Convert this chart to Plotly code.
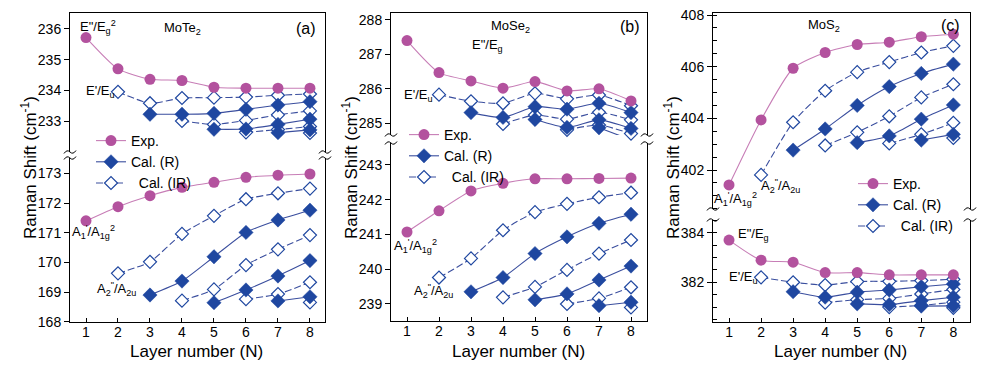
import plotly.graph_objects as go

W, H = 1002, 367
N = [1, 2, 3, 4, 5, 6, 7, 8]

# ---------------- (a) MoTe2 ----------------
a_hi_exp = [235.72, 234.70, 234.36, 234.32, 234.10, 234.07, 234.07, 234.07]
a_hi_R = [
    [None, None, 233.22, 233.22, 233.25, 233.38, 233.52, 233.63],
    [None, None, None, None, 232.73, 232.74, 232.89, 233.06],
    [None, None, None, None, None, None, 232.62, 232.71],
]
a_hi_IR = [
    [None, 233.95, 233.58, 233.75, 233.76, 233.78, 233.84, 233.88],
    [None, None, None, 233.00, 232.89, 233.02, 233.20, 233.33],
    [None, None, None, None, None, 232.63, 232.72, 232.82],
    [None, None, None, None, None, None, None, 232.61],
]
a_lo_exp = [171.40, 171.88, 172.25, 172.53, 172.70, 172.87, 172.94, 172.98]
a_lo_R = [
    [None, None, 168.90, 169.37, 170.19, 171.01, 171.43, 171.76],
    [None, None, None, None, 168.64, 169.07, 169.54, 170.06],
    [None, None, None, None, None, None, 168.70, 168.84],
]
a_lo_IR = [
    [None, 169.63, 170.02, 170.96, 171.57, 172.13, 172.33, 172.49],
    [None, None, None, 168.71, 169.09, 169.91, 170.44, 170.92],
    [None, None, None, None, None, 168.76, 168.93, 169.33],
    [None, None, None, None, None, None, None, 168.65],
]

# ---------------- (b) MoSe2 ----------------
b_hi_exp = [287.40, 286.47, 286.23, 286.02, 286.21, 285.94, 286.00, 285.65]
b_hi_R = [
    [None, None, 285.31, 285.17, 285.48, 285.41, 285.58, 285.31],
    [None, None, None, None, 285.11, 284.88, 285.10, 284.85],
    [None, None, None, None, None, None, 284.87, 284.52],
]
b_hi_IR = [
    [None, 285.83, 285.64, 285.58, 285.87, 285.71, 285.82, 285.51],
    [None, None, None, 284.98, 285.24, 285.12, 285.32, 285.10],
    [None, None, None, None, None, 284.81, 284.95, 284.70],
    [None, None, None, None, None, None, None, 284.62],
]
b_lo_exp = [241.07, 241.68, 242.25, 242.47, 242.60, 242.60, 242.61, 242.62]
b_lo_R = [
    [None, None, 239.35, 239.76, 240.45, 240.93, 241.32, 241.58],
    [None, None, None, None, 239.12, 239.29, 239.69, 240.09],
    [None, None, None, None, None, None, 238.95, 239.05],
]
b_lo_IR = [
    [None, 239.76, 240.31, 241.12, 241.64, 241.88, 242.07, 242.20],
    [None, None, None, 239.19, 239.49, 239.98, 240.45, 240.84],
    [None, None, None, None, None, 239.00, 239.16, 239.48],
    [None, None, None, None, None, None, None, 238.90],
]

# ---------------- (c) MoS2 ----------------
c_hi_exp = [401.42, 403.94, 405.94, 406.55, 406.86, 406.95, 407.16, 407.26]
c_hi_R = [
    [None, None, 402.77, 403.59, 404.50, 405.23, 405.74, 406.10],
    [None, None, None, None, 403.06, 403.32, 403.97, 404.52],
    [None, None, None, None, None, None, 403.16, 403.38],
]
c_hi_IR = [
    [None, 401.81, 403.85, 405.07, 405.79, 406.18, 406.55, 406.81],
    [None, None, None, 402.95, 403.46, 404.08, 404.81, 405.32],
    [None, None, None, None, None, 403.03, 403.38, 403.83],
    [None, None, None, None, None, None, None, 403.24],
]
c_lo_exp = [383.70, 382.89, 382.81, 382.39, 382.39, 382.30, 382.30, 382.30]
c_lo_R = [
    [None, None, 381.62, 381.40, 381.60, 381.69, 381.82, 381.93],
    [None, None, None, None, 381.13, 381.10, 381.26, 381.40],
    [None, None, None, None, None, None, 381.04, 381.05],
]
c_lo_IR = [
    [None, 382.20, 382.00, 381.89, 382.03, 382.04, 382.07, 382.12],
    [None, None, None, 381.18, 381.30, 381.35, 381.53, 381.71],
    [None, None, None, None, None, 381.00, 381.07, 381.20],
    [None, None, None, None, None, None, None, 380.97],
]

# ---------------- styling ----------------
FONT = "Arial, Liberation Sans, Helvetica, sans-serif"
PINK_M = "#B3529E"
PINK_L = "#C77DB6"
BLUE = "#1F47A0"
BLUE_L = "#3A4E9E"


def px(x):
    return x / W


def py(y):
    return 1 - y / H


panels = [
    dict(l=70, r=325, t=13, bt=152, bb=158, b=322,
         hi=(231.99, 236.52), lo=(167.99, 173.52), xr=(0.5, 8.47),
         hi_ticks=[233, 234, 235, 236], lo_ticks=[168, 169, 170, 171, 172, 173], minor=False,
         data=(a_hi_exp, a_hi_R, a_hi_IR, a_lo_exp, a_lo_R, a_lo_IR)),
    dict(l=391, r=647, t=13, bt=135, bb=143, b=321,
         hi=(284.66, 288.20), lo=(238.51, 243.63), xr=(0.5, 8.5),
         hi_ticks=[285, 286, 287, 288], lo_ticks=[239, 240, 241, 242, 243], minor=False,
         data=(b_hi_exp, b_hi_R, b_hi_IR, b_lo_exp, b_lo_R, b_lo_IR)),
    dict(l=713, r=970, t=13, bt=209, bb=220, b=322,
         hi=(400.49, 408.08), lo=(380.40, 384.51), xr=(0.5, 8.52),
         hi_ticks=[402, 404, 406, 408], lo_ticks=[382, 384], minor=True,
         data=(c_hi_exp, c_hi_R, c_hi_IR, c_lo_exp, c_lo_R, c_lo_IR)),
]

fig = go.Figure()
layout = dict(
    width=W, height=H, margin=dict(l=0, r=0, t=0, b=0, autoexpand=False),
    paper_bgcolor="white", plot_bgcolor="white",
    font=dict(family=FONT, size=14, color="black"),
)

legend_names = ["legend", "legend2", "legend3"]
legend_pos = [(91, 125), (404, 119), (853, 168)]

shapes = []
annotations = []

for i, p in enumerate(panels):
    kx_hi = 2 * i + 1
    kx_lo = 2 * i + 2
    sfx = lambda k: "" if k == 1 else str(k)
    xd = [px(p["l"]), px(p["r"])]
    layout["xaxis" + sfx(kx_hi)] = dict(
        domain=xd, anchor="y" + sfx(kx_hi), range=list(p["xr"]), side="top",
        showline=True, linecolor="black", linewidth=1, ticks="",
        showticklabels=False, showgrid=False, zeroline=False, mirror=False)
    yhi = dict(
        domain=[py(p["bt"]), py(p["t"])], anchor="x" + sfx(kx_hi), range=list(p["hi"]),
        showline=True, linecolor="black", linewidth=1, mirror=True,
        ticks="outside", ticklen=5, tickwidth=1, tickcolor="black",
        tickvals=p["hi_ticks"], showgrid=False, zeroline=False,
        tickfont=dict(size=14, family=FONT))
    ylo = dict(
        domain=[py(p["b"]), py(p["bb"])], anchor="x" + sfx(kx_lo), range=list(p["lo"]),
        showline=True, linecolor="black", linewidth=1, mirror=True,
        ticks="outside", ticklen=5, tickwidth=1, tickcolor="black",
        tickvals=p["lo_ticks"], showgrid=False, zeroline=False,
        tickfont=dict(size=14, family=FONT))
    if p["minor"]:
        yhi["minor"] = dict(dtick=0.5, ticks="inside", ticklen=4, tickcolor="black", showgrid=False)
        yhi["dtick"] = 2
        ylo["minor"] = dict(dtick=0.5, ticks="inside", ticklen=4, tickcolor="black", showgrid=False)
        ylo["dtick"] = 2
    layout["yaxis" + sfx(kx_hi)] = yhi
    layout["yaxis" + sfx(kx_lo)] = ylo
    layout["xaxis" + sfx(kx_lo)] = dict(
        domain=xd, anchor="y" + sfx(kx_lo), range=list(p["xr"]),
        showline=True, linecolor="black", linewidth=1, mirror=False,
        ticks="inside", ticklen=4, tickcolor="black", tickvals=N,
        ticklabelstandoff=-3,
        showgrid=False, zeroline=False, tickfont=dict(size=14, family=FONT))

    hi_exp, hi_R, hi_IR, lo_exp, lo_R, lo_IR = p["data"]
    lg = legend_names[i]
    for (xa, ya, exp, Rs, IRs, first) in [
        ("x" + sfx(kx_hi), "y" + sfx(kx_hi), hi_exp, hi_R, hi_IR, True),
        ("x" + sfx(kx_lo), "y" + sfx(kx_lo), lo_exp, lo_R, lo_IR, False),
    ]:
        for j, s in enumerate(IRs):
            fig.add_trace(go.Scatter(
                x=N, y=s, xaxis=xa, yaxis=ya, mode="lines+markers",
                line=dict(color=BLUE_L, width=1.1, dash="7px,3px", shape="spline", smoothing=0.6),
                marker=dict(symbol="diamond", size=10, color="white", line=dict(color=BLUE, width=1.2)),
                name="\u00a0\u00a0Cal. (IR)", legend=lg, legendrank=3,
                showlegend=(first and j == 0), cliponaxis=False))
        for j, s in enumerate(Rs):
            fig.add_trace(go.Scatter(
                x=N, y=s, xaxis=xa, yaxis=ya, mode="lines+markers",
                line=dict(color=BLUE_L, width=1.1, shape="spline", smoothing=0.6),
                marker=dict(symbol="diamond", size=11, color=BLUE, line=dict(color=BLUE, width=0.5)),
                name="Cal. (R)", legend=lg, legendrank=2,
                showlegend=(first and j == 0), cliponaxis=False))
        fig.add_trace(go.Scatter(
            x=N, y=exp, xaxis=xa, yaxis=ya, mode="lines+markers",
            line=dict(color=PINK_L, width=1.1, shape="spline", smoothing=0.6),
            marker=dict(symbol="circle", size=11, color=PINK_M),
            name="Exp.", legend=lg, legendrank=1,
            showlegend=first, cliponaxis=False))

    lx, ly = legend_pos[i]
    layout[lg] = dict(
        x=px(lx), y=py(ly), xanchor="left", yanchor="top",
        bgcolor="rgba(0,0,0,0)", borderwidth=0, itemwidth=30,
        font=dict(size=14, family=FONT), tracegroupgap=0,
        traceorder="normal", itemclick=False)

    # axis break marks on both spines
    for xs in (p["l"], p["r"]):
        for yc in (p["bt"], p["bb"]):
            x0, x1 = xs - 6, xs + 6
            path = "M {:.6f},{:.6f} Q {:.6f},{:.6f} {:.6f},{:.6f} T {:.6f},{:.6f}".format(
                px(x0), py(yc + 1.5), px(xs - 3), py(yc - 3), px(xs), py(yc),
                px(x1), py(yc - 1.5))
            shapes.append(dict(type="path", xref="paper", yref="paper", path=path,
                               line=dict(color="black", width=1)))

    annotations.append(dict(
        x=px((p["l"] + p["r"]) / 2 - 1), y=py(351), xref="paper", yref="paper",
        text="Layer number (N)", showarrow=False, font=dict(size=17, family=FONT),
        xanchor="center", yanchor="middle"))
    annotations.append(dict(
        x=px(p["l"] - 41), y=py(168), xref="paper", yref="paper",
        text="Raman Shift (cm<sup>-1</sup>)", showarrow=False, textangle=-90,
        font=dict(size=17, family=FONT), xanchor="center", yanchor="middle"))


def label(x, y, text, anchor="left", size=13):
    annotations.append(dict(
        x=px(x), y=py(y), xref="paper", yref="paper", text=text, showarrow=False,
        font=dict(size=size, family=FONT), xanchor=anchor, yanchor="middle"))


E2 = "E\"/E<sub>g</sub><sup>2</sup>"
Eg = "E\"/E<sub>g</sub>"
Eu = "E'/E<sub>u</sub>"
A1 = "A<sub>1</sub><sup>'</sup>/A<sub>1g</sub><sup>2</sup>"
A2 = "A<sub>2</sub><sup>\"</sup>/A<sub>2u</sub>"

# (a)
label(78, 27, E2)
label(182, 29, "MoTe<sub>2</sub>", "center")
label(318, 29, "(a)", "right", 16)
label(84, 92, Eu)
label(70, 232, A1)
label(95, 289, A2)
# (b)
label(470, 45, Eg)
label(510, 27, "MoSe<sub>2</sub>", "center")
label(642, 27, "(b)", "right", 16)
label(402, 96, Eu)
label(392, 246, A1)
label(412, 291, A2)
# (c)
label(824, 25, "MoS<sub>2</sub>", "center")
label(962, 25, "(c)", "right", 16)
label(759, 186, A2)
label(712, 199, A1)
label(736, 234, Eg)
label(727, 277, Eu)

layout["shapes"] = shapes
layout["annotations"] = annotations
fig.update_layout(**layout)
fig.write_html(
    "out.html",
    config={"displayModeBar": False},
    post_script="document.body.style.margin='0px';document.body.style.overflow='hidden';",
)
